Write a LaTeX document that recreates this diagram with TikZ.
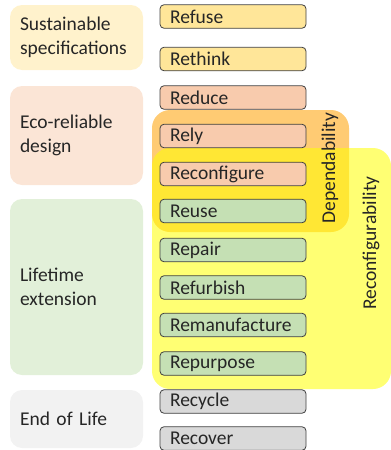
\documentclass[tikz,border=0pt]{standalone}
\usepackage{fontspec}
\setmainfont{Carlito}
\usepackage{tikz}
\usetikzlibrary{positioning}
\definecolor{catyellow}{HTML}{FFF2CC}
\definecolor{catorange}{HTML}{FBE5D6}
\definecolor{catgreen}{HTML}{E2F0D9}
\definecolor{catgray}{HTML}{F2F2F2}
\definecolor{ryellow}{HTML}{FFE699}
\definecolor{rorange}{HTML}{F8CBAD}
\definecolor{rgreen}{HTML}{C5E0B4}
\definecolor{rgray}{HTML}{D9D9D9}
\definecolor{dependcol}{HTML}{FFA000}
\definecolor{reconfcol}{HTML}{FFFF00}
\begin{document}
\begin{tikzpicture}[x=1pt,y=-1pt,line join=round,
  every node/.style={font=\fontsize{19.5}{23.5}\selectfont,text=black!85},
  category/.style={rounded corners=12pt,minimum width=133pt,inner xsep=10pt,inner ysep=0pt,text width=113pt,align=left},
  rstep/.style={draw=black!75,line width=0.8pt,rounded corners=4pt,minimum height=23.5pt,inner xsep=10pt,inner ysep=0pt,text width=126pt,align=left},
  region/.style={rounded corners=18pt,inner sep=0pt,fill opacity=0.55}]
\useasboundingbox (0,0) rectangle (391,450);
\node[category,fill=catyellow,minimum height=65pt] (sust) at (76.5,37.5) {Sustainable\\specifications};
\node[category,fill=catorange,minimum height=99pt] (eco) at (76.5,135.5) {Eco-reliable\\design};
\node[category,fill=catgreen,minimum height=176pt] (life) at (76.5,287) {Lifetime\\extension};
\node[category,fill=catgray,minimum height=58pt] (eol) at (76.5,419) {End of Life};
\node[region,fill=dependcol,minimum width=197pt,minimum height=122pt] (depend) at (250.5,171) {};
\node[region,fill=reconfcol,minimum width=239pt,minimum height=241pt] (reconf) at (271.5,268.5) {};
\node[rotate=90] (dependlab) at (330,168) {Dependability};
\node[rotate=90] (reconflab) at (371,243) {Reconfigurability};
\node[rstep,fill=ryellow] (refuse) at (233,16.5) {Refuse};
\node[rstep,fill=ryellow] (rethink) at (233,59) {Rethink};
\node[rstep,fill=rorange] (reduce) at (233,97.5) {Reduce};
\node[rstep,fill=rorange] (rely) at (233,136) {Rely};
\node[rstep,fill=rorange] (reconfigure) at (233,174) {Reconfigure};
\node[rstep,fill=rgreen] (reuse) at (233,211) {Reuse};
\node[rstep,fill=rgreen] (repair) at (233,250) {Repair};
\node[rstep,fill=rgreen] (refurbish) at (233,287.5) {Refurbish};
\node[rstep,fill=rgreen] (remanufacture) at (233,325) {Remanufacture};
\node[rstep,fill=rgreen] (repurpose) at (233,363.5) {Repurpose};
\node[rstep,fill=rgray] (recycle) at (233,401.5) {Recycle};
\node[rstep,fill=rgray] (recover) at (233,438.5) {Recover};
\end{tikzpicture}
\end{document}
